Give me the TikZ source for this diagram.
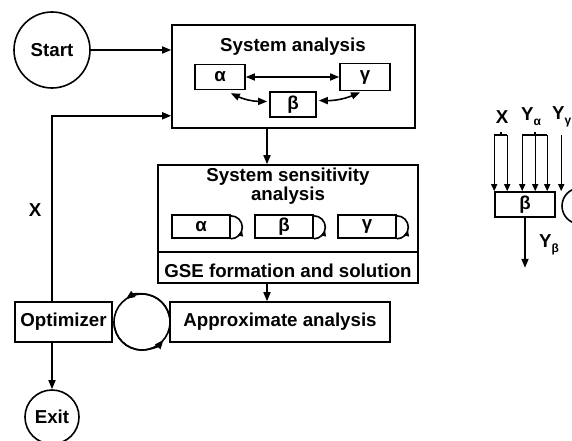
\documentclass[tikz,border=0pt]{standalone}
\usepackage{fontspec}
\setmainfont{Liberation Sans}
\usetikzlibrary{arrows.meta,decorations.markings,calc}

\newcommand{\subsc}[1]{\raisebox{-5pt}{\fontsize{12}{12}\selectfont #1}}

\begin{document}
\begin{tikzpicture}[x=1pt,y=-1pt,line width=1.6pt,
  >={Triangle[length=9pt,width=7pt]},
  every node/.style={font=\bfseries\fontsize{18.7}{17}\selectfont,inner sep=0pt},
  blk/.style={draw,rectangle},
  circ/.style={draw,circle},
  loopmark/.style={postaction={decorate},decoration={markings,
      mark=at position 0.42 with {\arrow{Triangle[length=6pt,width=5pt]}}}}]
\useasboundingbox (0,0) rectangle (572,441);
\clip (0,0) rectangle (572,441);

% start and system analysis
\node[circ,minimum size=76] (start) at (52,50) {Start};
\node[blk,minimum width=243,minimum height=103] (sys) at (293.5,76.5) {};
\node (systitle) at (293,47) {System analysis};
\node[blk,minimum width=50,minimum height=25] (a1) at (220,77) {α};
\node[blk,minimum width=46,minimum height=25] (b1) at (293,104.5) {β};
\node[blk,minimum width=50,minimum height=27] (g1) at (365,77) {γ};
\draw[<->] (a1) -- (g1);
\draw[<->] ($(a1.south east)+(-15,3)$) to[bend right=12] ($(b1.west)+(-2,-3)$);
\draw[<->] ($(b1.east)+(2,-4)$) to[bend right=12] ($(g1.south)+(-5,1)$);
\draw[->] (start.east) -- (start.east -| sys.west);

% sensitivity analysis and GSE
\coordinate (arrx) at (267,0);
\node[blk,minimum width=260,minimum height=118] (sens) at (288,224) {};
\coordinate (divy) at (0,252);
\draw (sens.west |- divy) -- (sens.east |- divy);
\node[align=center] (senstitle) at (288,186) {System sensitivity\\analysis};
\node (gse) at (288,271) {GSE formation and solution};
\node[blk,minimum width=58,minimum height=23] (a2) at (201,226.5) {α};
\node[blk,minimum width=58,minimum height=23] (b2) at (284,226.5) {β};
\node[blk,minimum width=58,minimum height=23] (g2) at (367,226.5) {γ};
\foreach \b in {a2,b2,g2}
  \draw[loopmark] (\b.south east) arc[start angle=90,end angle=-90,radius=11.5];
\draw[->] (sys.south -| arrx) -- (sens.north -| arrx);

% approximate analysis loop
\node[blk,minimum width=220,minimum height=40] (apx) at (280,322) {Approximate analysis};
\node[blk,minimum width=97,minimum height=40] (opt) at (63.5,322) {Optimizer};
\draw[->] (sens.south -| arrx) -- (apx.north -| arrx);
\coordinate (lc) at (142,322);
\draw (lc) circle[radius=28];
\draw[->] ($(lc)+(-10:28)$) arc[start angle=-10,end angle=-125,radius=28];
\draw[->] ($(lc)+(180:28)$) arc[start angle=180,end angle=40,radius=28];

% exit and feedback
\node[circ,minimum size=54] (exit) at (52,417) {Exit};
\draw[->] (opt.south -| exit.north) -- (exit.north);
\coordinate (fbin) at ($(sys.south west)+(0,-13)$);
\draw[->] (opt.north -| exit.north) |- (fbin);
\node (xlab) at (35,210) {X};

% single discipline detail
\node[blk,minimum width=60,minimum height=25] (b3) at (525,204.5) {β};
\draw (580,206) circle[radius=18];
\foreach \dx in {0,13,28,41,53,67}
  \draw[->,line width=1.4pt,>={Triangle[length=7pt,width=6pt]}]
    ($(b3.north west)+(\dx,-56)$) -- ($(b3.north west)+(\dx,0)$);
\draw ($(b3.north west)+(0,-56)$) -- ++(13,0);
\draw ($(b3.north west)+(6.5,-56)$) -- ++(0,-3);
\draw ($(b3.north west)+(28,-56)$) -- ++(25,0);
\draw ($(b3.north west)+(40.5,-56)$) -- ++(0,-3);
\node (xin) at (502,117) {X};
\node (yain) at (531,117) {Y\subsc{α}};
\node[anchor=east] (ygin) at (572,117) {Y\subsc{γ}};
\draw[->] (b3.south) -- ++(0,50);
\node (ybout) at (549,245) {Y\subsc{β}};
\end{tikzpicture}
\end{document}
